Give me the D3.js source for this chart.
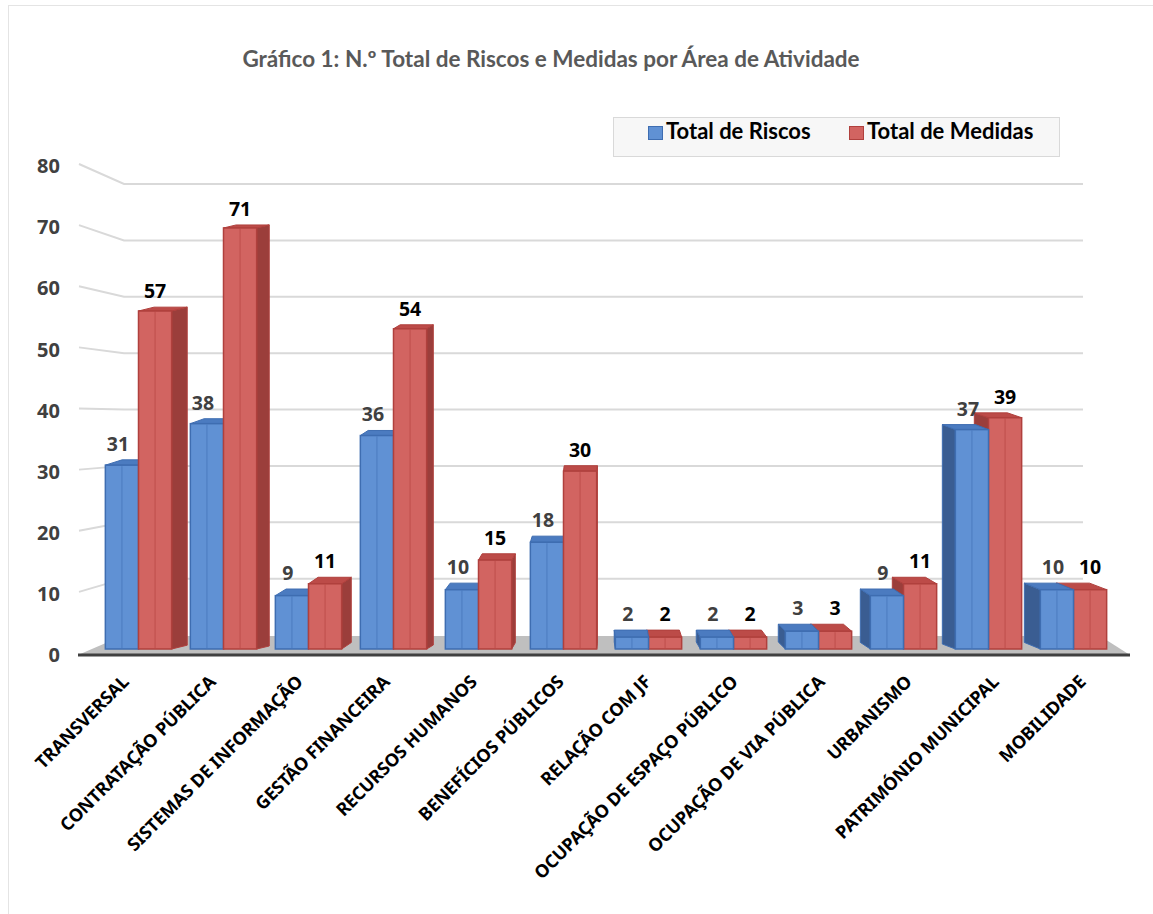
<!DOCTYPE html>
<html>
<head>
<meta charset="utf-8">
<script src="https://cdnjs.cloudflare.com/ajax/libs/d3/7.8.5/d3.min.js"></script>
<style>
  body { margin: 0; background: #fff; }
  svg { display: block; }
</style>
</head>
<body>
<div id="chart"></div>
<script>
var categories = ["TRANSVERSAL", "CONTRATAÇÃO PÚBLICA", "SISTEMAS DE INFORMAÇÃO", "GESTÃO FINANCEIRA",
  "RECURSOS HUMANOS", "BENEFÍCIOS PÚBLICOS", "RELAÇÃO COM JF", "OCUPAÇÃO DE ESPAÇO PÚBLICO",
  "OCUPAÇÃO DE VIA PÚBLICA", "URBANISMO", "PATRIMÓNIO MUNICIPAL", "MOBILIDADE"];
var riscos = [31, 38, 9, 36, 10, 18, 2, 2, 3, 9, 37, 10];
var medidas = [57, 71, 11, 54, 15, 30, 2, 2, 3, 11, 39, 10];
var yTicks = [0, 10, 20, 30, 40, 50, 60, 70, 80];
var seriesNames = ["Total de Riscos", "Total de Medidas"];
var titleText = "Gráfico 1: N.º Total de Riscos e Medidas por Área de Atividade";

var W = 1153, H = 914;
var sans = "'Noto Sans', 'Open Sans', 'DejaVu Sans', sans-serif";
var narrow = "Lato, 'Open Sans', sans-serif";
var svg = d3.select("#chart").append("svg").attr("width", W).attr("height", H);

// colours: front, stroke, side, top
var pal = [
  { front: "#6091d4", stroke: "#3e6db1", side: "#3a5d92", top: "#4b7bc0", label: "#404040" },
  { front: "#d26461", stroke: "#b0403d", side: "#9b3e3b", top: "#bc4b48", label: "#000000" }
];

// outer frame
svg.append("rect")
  .attr("x", 8.5).attr("y", 5.5).attr("width", 1160).attr("height", 930)
  .attr("fill", "#fff").attr("stroke", "#e4e4e4");

// scales
var x0 = d3.scaleBand().domain(categories).range([96, 1116]).paddingInner(0.22).paddingOuter(0.11);
var x1 = d3.scaleBand().domain([0, 1]).range([0, x0.bandwidth()]);
var xLab = d3.scalePoint().domain(categories).range([130, 1087]);
var yBar = d3.scaleLinear().domain([0, 80]).range([649, 649 - 80 * 5.93]);
var yWall = d3.scaleLinear().domain([0, 80]).range([635, 184]);
var yLab = d3.scaleLinear().domain([0, 80]).range([655, 166]);

// perspective helpers
var vx = 600, kx = 0.035, vy = -79, ky = 0.0098;

// title
svg.append("text")
  .attr("x", 551).attr("y", 67)
  .attr("text-anchor", "middle")
  .style("font-family", narrow)
  .style("font-weight", 700).style("font-size", "22.5px")
  .attr("fill", "#595959")
  .text(titleText);

// gridlines on back wall with bent connector to labels
var grid = svg.append("g");
yTicks.filter(function (t) { return t > 0; }).forEach(function (t) {
  grid.append("path")
    .attr("d", "M79," + (yLab(t) - 2) + "L124," + yWall(t) + "L1083," + yWall(t))
    .attr("fill", "none").attr("stroke", "#d9d9d9").attr("stroke-width", 2);
});

// floor
svg.append("path")
  .attr("d", "M78,655L1130,655L1100,636L122,636Z")
  .attr("fill", "#bfbfbf");
svg.append("line")
  .attr("x1", 78).attr("x2", 1130).attr("y1", 655).attr("y2", 655)
  .attr("stroke", "#404040").attr("stroke-width", 3);

// y tick labels
svg.append("g").selectAll("text")
  .data(yTicks)
  .enter().append("text")
  .attr("x", 60).attr("y", function (d) { return yLab(d); })
  .attr("dy", "0.36em")
  .attr("text-anchor", "end")
  .style("font-family", sans)
  .style("font-weight", 700).style("font-size", "20px")
  .attr("fill", "#404040")
  .text(function (d) { return d; });

// build bars
var bars = [];
categories.forEach(function (c, i) {
  [riscos[i], medidas[i]].forEach(function (v, s) {
    var xa = x0(c) + x1(s), xb = xa + x1.bandwidth();
    var yT = yBar(v), yB = yBar(0);
    var cx = (xa + xb) / 2;
    bars.push({ c: c, s: s, v: v, xa: xa, xb: xb, yT: yT, yB: yB, cx: cx,
      dx: kx * (vx - cx), dy: ky * (vy - yT) });
  });
});
var leftBars = bars.filter(function (b) { return b.cx < vx; }).sort(function (a, b) { return a.cx - b.cx; });
var rightBars = bars.filter(function (b) { return b.cx >= vx; }).sort(function (a, b) { return b.cx - a.cx; });
var ordered = leftBars.concat(rightBars);

var gBars = svg.append("g");
ordered.forEach(function (b) {
  var p = pal[b.s];
  var g = gBars.append("g");
  var sx = b.dx > 0 ? b.xb : b.xa;
  g.append("path")
    .attr("d", "M" + sx + "," + b.yT + "L" + (sx + b.dx) + "," + (b.yT + b.dy) +
      "L" + (sx + b.dx) + "," + (b.yB + b.dy) + "L" + sx + "," + b.yB + "Z")
    .attr("fill", p.side).attr("stroke", p.stroke).attr("stroke-width", 1);
  g.append("path")
    .attr("d", "M" + b.xa + "," + b.yT + "L" + b.xb + "," + b.yT +
      "L" + (b.xb + b.dx) + "," + (b.yT + b.dy) + "L" + (b.xa + b.dx) + "," + (b.yT + b.dy) + "Z")
    .attr("fill", p.top).attr("stroke", p.stroke).attr("stroke-width", 1);
  g.append("rect")
    .attr("x", b.xa).attr("y", b.yT)
    .attr("width", b.xb - b.xa).attr("height", b.yB - b.yT)
    .attr("fill", p.front).attr("stroke", p.stroke).attr("stroke-width", 1.5);
  g.append("line")
    .attr("x1", b.cx).attr("x2", b.cx).attr("y1", b.yT + 1).attr("y2", b.yB - 1)
    .attr("stroke", p.stroke).attr("stroke-opacity", 0.6).attr("stroke-width", 1);
});

// value labels
svg.append("g").selectAll("text")
  .data(bars)
  .enter().append("text")
  .attr("x", function (d) { return d.s === 0 ? d.cx - 4 : d.cx; })
  .attr("y", function (d) { return d.yT + d.dy - 9; })
  .attr("text-anchor", "middle")
  .style("font-family", sans)
  .style("font-weight", 700)
  .style("font-size", "19.5px")
  .attr("fill", function (d) { return pal[d.s].label; })
  .text(function (d) { return d.v; });

// category labels
svg.append("g").selectAll("text")
  .data(categories)
  .enter().append("text")
  .attr("transform", function (d) { return "translate(" + xLab(d) + ",683) rotate(-45)"; })
  .attr("text-anchor", "end")
  .style("font-family", sans)
  .style("font-weight", 700).style("font-size", "18px")
  .style("letter-spacing", "-0.2px")
  .attr("fill", "#000")
  .text(function (d) { return d; });

// legend
var lg = svg.append("g");
lg.append("rect")
  .attr("x", 613.5).attr("y", 117.5).attr("width", 446).attr("height", 39)
  .attr("fill", "#f7f7f7").attr("stroke", "#d9d9d9");
var lgX = [648, 849];
seriesNames.forEach(function (n, s) {
  lg.append("rect")
    .attr("x", lgX[s] + 0.5).attr("y", 126.5).attr("width", 14).attr("height", 13)
    .attr("fill", pal[s].front).attr("stroke", pal[s].stroke);
  lg.append("text")
    .attr("x", lgX[s] + 18).attr("y", 139)
    .style("font-family", narrow)
    .style("font-weight", 700).style("font-size", "22px")
    .attr("fill", "#000")
    .text(n);
});
</script>
</body>
</html>
